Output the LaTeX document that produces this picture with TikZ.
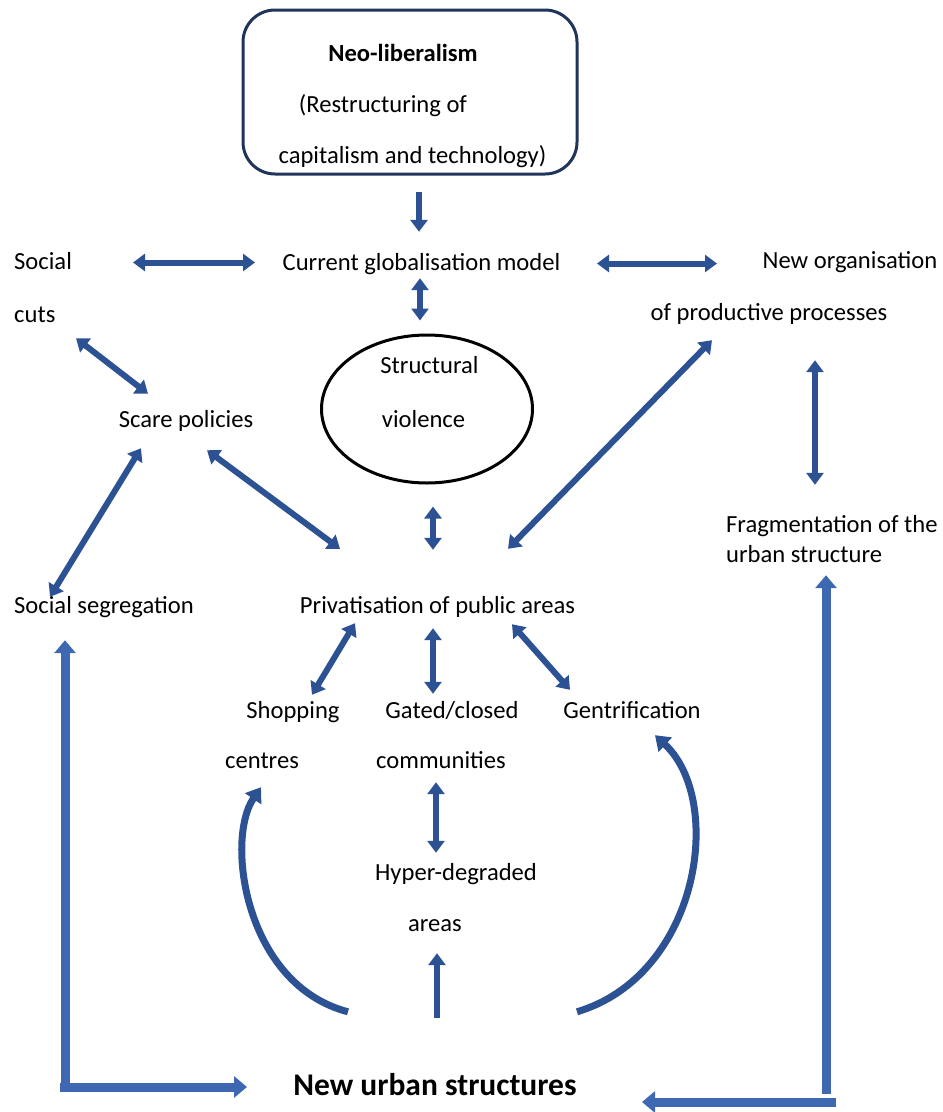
\documentclass[tikz,border=0pt]{standalone}
\usepackage{fontspec}
\setmainfont{Carlito}
\usetikzlibrary{arrows.meta,shapes.geometric,positioning,calc}

\definecolor{arrowblue}{RGB}{44,82,148}
\definecolor{lightarrow}{RGB}{62,104,178}
\definecolor{boxline}{RGB}{32,52,92}

\tikzset{
  lbl/.style={anchor=base, inner sep=0pt, text height=18pt, text depth=5pt, font=\fontsize{24.6}{29}\selectfont},
  leftlbl/.style={lbl, anchor=base west},
  dblarrow/.style={draw=arrowblue, line width=6pt, {Triangle[width=17pt,length=12pt]}-{Triangle[width=17pt,length=12pt]}},
  onearrow/.style={draw=arrowblue, line width=6pt, -{Triangle[width=17pt,length=12pt]}},
  curvarrow/.style={draw=arrowblue, line width=7pt, -{Triangle[width=19pt,length=14pt]}},
  longarrow/.style={draw=lightarrow, line width=9pt, -{Triangle[width=21pt,length=13pt]}},
}

\begin{document}
\begin{tikzpicture}[x=1pt,y=-1pt]
		\useasboundingbox (0,0) rectangle (943,1112);
		% top box
		\node[draw=boxline, line width=3pt, rounded corners=32pt, minimum width=334pt, minimum height=164pt] (box) at (410,92) {};
		\node[lbl, font=\bfseries\fontsize{24.6}{29}\selectfont] (neo) at (403,61) {Neo-liberalism};
		\node[lbl] (restr) at (383,112) {(Restructuring of};
		\node[lbl] (capit) at (412.5,163) {capitalism and technology)};
		% first row
		\node[lbl] (curmodel) at (421.5,270) {Current globalisation model};
		\node[leftlbl] (social) at (14,269) {Social};
		\node[leftlbl] (cuts) at (14,322) {cuts};
		\node[lbl] (neworg) at (850,268) {New organisation};
		\node[lbl] (ofprod) at (769,320) {of productive processes};
		% structural violence
		\node[ellipse, draw, line width=3pt, minimum width=211pt, minimum height=148pt] (sv) at (427,409) {};
		\node[lbl] (svtop) at (429.5,373) {Structural};
		\node[lbl] (svbot) at (423.5,427) {violence};
		\node[lbl] (scare) at (186,427) {Scare policies};
		\node[leftlbl] (frag1) at (726,532) {Fragmentation of the};
		\node[leftlbl] (frag2) at (726,562) {urban structure};
		\node[leftlbl] (segreg) at (14,613) {Social segregation};
		\node[lbl] (priv) at (437.5,613) {Privatisation of public areas};
		% lower row
		\node[lbl] (shop) at (293,718) {Shopping};
		\node[lbl] (centres) at (262,768) {centres};
		\node[lbl] (gated) at (452,718) {Gated/closed};
		\node[lbl] (commun) at (441,768) {communities};
		\node[lbl] (gentr) at (632,718) {Gentrification};
		\node[lbl] (hyper) at (456,880) {Hyper-degraded};
		\node[lbl] (areas) at (435,931) {areas};
		\node[lbl, text height=23pt, text depth=7pt, font=\bfseries\fontsize{31.5}{37}\selectfont] (newurb) at (435,1095) {New urban structures};

		\draw[onearrow] ([xshift=9pt,yshift=-16pt]box.south) -- ([xshift=-2.5pt,yshift=20pt]curmodel.north);
		\draw[dblarrow] ([xshift=119pt]social.west) -- ([xshift=-166.5pt,yshift=1pt]curmodel.center);
		\draw[dblarrow] ([xshift=175.5pt]curmodel.center) -- ([xshift=-133pt,yshift=-2pt]neworg.center);
		\draw[dblarrow] ([xshift=-1.5pt,yshift=-3pt]curmodel.south) -- ([xshift=-7pt,yshift=13pt]sv.north);
		\draw[dblarrow] ([xshift=62pt,yshift=-11pt]cuts.south west) -- ([xshift=-38pt,yshift=15pt]scare.north);
		\draw[dblarrow] ([xshift=-45pt,yshift=-16pt]scare.south) -- ([xshift=36pt,yshift=-2pt]segreg.north west);
		\draw[dblarrow] ([xshift=21pt,yshift=-18pt]scare.south) -- ([xshift=-97.5pt,yshift=46pt]priv.north);
		\draw[dblarrow] ([xshift=6pt,yshift=-22pt]sv.south) -- ([xshift=-4.5pt,yshift=45pt]priv.north);
		\draw[dblarrow] ([xshift=-57pt,yshift=-15pt]ofprod.south) -- ([xshift=70.5pt,yshift=46pt]priv.north);
		\draw[dblarrow] ([xshift=46pt,yshift=-35pt]ofprod.south) -- ([xshift=89pt,yshift=29pt]frag1.north west);
		\draw[dblarrow] ([xshift=-82.5pt,yshift=-5pt]priv.south) -- ([xshift=19pt,yshift=5pt]shop.north);
		\draw[dblarrow] ([xshift=-4.5pt,yshift=-10pt]priv.south) -- ([xshift=-19pt,yshift=6pt]gated.north);
		\draw[dblarrow] ([xshift=74.5pt,yshift=-6pt]priv.south) -- ([xshift=-62pt,yshift=10pt]gentr.north);
		\draw[dblarrow] ([xshift=-5pt,yshift=-9pt]commun.south) -- ([xshift=-20pt,yshift=9pt]hyper.north);
		\draw[onearrow] ([xshift=2pt,yshift=54pt]newurb.north) -- ([xshift=2pt,yshift=-17pt]areas.south);
		% curved arrows
		\draw[curvarrow] ([xshift=-87pt,yshift=60pt]newurb.north) .. controls (245,985) and (225,840) .. ([xshift=-1pt,yshift=-14pt]centres.south);
		\draw[curvarrow] ([xshift=142pt,yshift=60pt]newurb.north) .. controls (700,975) and (725,800) .. ([xshift=23pt,yshift=-12pt]gentr.south);
		% outer frame arrows
		\draw[longarrow] ([xshift=-370pt,yshift=-5pt]newurb.center) -- ([xshift=51pt,yshift=-22pt]segreg.south west);
		\draw[longarrow] ([xshift=-375pt]newurb.center) -- ([xshift=-188pt]newurb.center);
		\draw[longarrow] ([xshift=391pt,yshift=-7pt]newurb.center) -- ([xshift=100pt,yshift=-8pt]frag2.south west);
		\draw[longarrow] ([xshift=401pt,yshift=-15pt]newurb.center) -- ([xshift=207pt,yshift=-15pt]newurb.center);
	\end{tikzpicture}
\end{document}
